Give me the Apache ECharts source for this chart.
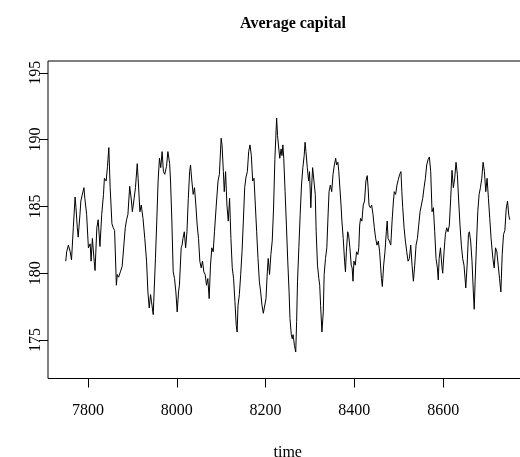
<!DOCTYPE html>
<html>
<head>
<meta charset="utf-8">
<script src="https://cdn.jsdelivr.net/npm/echarts@6/dist/echarts.min.js"></script>
<style>
  body { margin: 0; background: #fff; }
  #chart { width: 520px; height: 457px; }
</style>
</head>
<body>
<div id="chart"></div>
<script>
// time index, one entry per traced point
var timeSteps = [
  7750, 7752, 7756, 7760, 7763, 7767, 7771, 7773, 7776, 7778, 7782, 7784, 7788, 7791, 7793, 7797,
  7801, 7805, 7807, 7810, 7814, 7816, 7820, 7823, 7827, 7831, 7835, 7837, 7841, 7844, 7847, 7850,
  7854, 7857, 7860, 7864, 7866, 7869, 7873, 7877, 7880, 7884, 7887, 7890, 7894, 7898, 7900, 7904,
  7907, 7911, 7913, 7917, 7920, 7924, 7928, 7932, 7935, 7938, 7941, 7943, 7947, 7949, 7952, 7955,
  7958, 7961, 7964, 7967, 7970, 7973, 7977, 7980, 7984, 7986, 7989, 7992, 7995, 7998, 8001, 8004,
  8006, 8010, 8012, 8014, 8017, 8020, 8023, 8026, 8029, 8031, 8034, 8037, 8040, 8043, 8046, 8049,
  8052, 8055, 8058, 8061, 8064, 8067, 8070, 8073, 8076, 8079, 8082, 8085, 8089, 8093, 8096, 8100,
  8102, 8105, 8107, 8110, 8113, 8116, 8119, 8122, 8125, 8128, 8131, 8134, 8136, 8138, 8141, 8144,
  8147, 8150, 8153, 8156, 8159, 8162, 8165, 8168, 8171, 8174, 8177, 8180, 8183, 8186, 8189, 8192,
  8195, 8198, 8201, 8204, 8206, 8209, 8212, 8215, 8218, 8221, 8223, 8225, 8227, 8229, 8232, 8235,
  8237, 8239, 8241, 8244, 8247, 8250, 8253, 8255, 8258, 8260, 8262, 8265, 8268, 8270, 8272, 8275,
  8278, 8281, 8284, 8287, 8289, 8291, 8294, 8297, 8299, 8302, 8304, 8306, 8309, 8312, 8314, 8317,
  8320, 8322, 8324, 8327, 8330, 8332, 8335, 8338, 8341, 8343, 8346, 8349, 8352, 8355, 8358, 8360,
  8363, 8365, 8367, 8370, 8372, 8375, 8378, 8380, 8382, 8385, 8387, 8390, 8393, 8395, 8397, 8399,
  8402, 8405, 8408, 8410, 8412, 8414, 8417, 8420, 8423, 8426, 8429, 8431, 8433, 8436, 8439, 8442,
  8445, 8448, 8451, 8454, 8457, 8461, 8463, 8466, 8469, 8472, 8474, 8476, 8479, 8482, 8485, 8488,
  8490, 8493, 8496, 8499, 8502, 8505, 8507, 8509, 8512, 8515, 8518, 8521, 8524, 8527, 8530, 8533,
  8536, 8539, 8542, 8545, 8548, 8551, 8554, 8557, 8560, 8563, 8566, 8569, 8572, 8575, 8578, 8581,
  8584, 8587, 8589, 8591, 8594, 8597, 8599, 8602, 8605, 8608, 8611, 8614, 8617, 8620, 8623, 8626,
  8629, 8632, 8635, 8638, 8641, 8644, 8647, 8651, 8654, 8657, 8659, 8662, 8665, 8668, 8670, 8672,
  8675, 8678, 8681, 8684, 8687, 8690, 8693, 8696, 8699, 8702, 8705, 8708, 8712, 8715, 8718, 8721,
  8724, 8727, 8730, 8733, 8736, 8739, 8742, 8745, 8748, 8750
];
// average capital at each time step
var capital = [
  180.9, 181.6, 182.1, 181.6, 181.0, 183.4, 185.7, 184.9, 183.4, 182.7, 184.4, 185.4, 186.0, 186.4, 185.6, 184.4,
  181.9, 182.2, 180.9, 182.6, 180.9, 180.2, 183.4, 184.0, 182.0, 184.4, 185.9, 187.1, 186.9, 188.0, 189.4, 186.4,
  183.7, 183.4, 183.2, 179.1, 179.9, 179.7, 180.1, 180.5, 180.6, 183.4, 184.0, 184.4, 186.5, 185.4, 184.6, 185.6,
  186.4, 188.2, 187.1, 184.6, 185.1, 184.1, 182.6, 180.9, 178.6, 177.4, 178.4, 177.9, 176.9, 178.6, 181.1, 183.9,
  186.9, 188.6, 187.9, 189.1, 187.6, 187.4, 188.0, 189.1, 188.2, 186.9, 183.9, 180.1, 179.6, 178.6, 177.1, 178.6,
  179.1, 181.9, 182.1, 182.6, 183.1, 181.9, 183.1, 185.6, 187.6, 188.1, 186.9, 185.9, 186.4, 185.1, 183.6, 182.6,
  180.9, 180.4, 180.9, 180.1, 179.9, 179.1, 179.6, 178.1, 180.6, 181.9, 181.6, 183.1, 185.1, 186.9, 187.4, 190.1,
  189.6, 187.6, 186.1, 187.6, 185.1, 183.9, 185.6, 182.6, 180.4, 179.6, 177.9, 176.1, 175.6, 177.6, 178.4, 179.9,
  181.6, 183.9, 186.4, 187.2, 187.6, 189.1, 189.6, 188.8, 186.9, 187.1, 185.1, 183.1, 181.1, 179.4, 178.6, 177.6,
  177.0, 176.9, 178.1, 180.1, 181.1, 179.9, 181.4, 182.4, 184.8, 188.5, 190.1, 191.6, 190.3, 189.6, 188.6, 189.3,
  188.8, 189.6, 188.6, 186.1, 183.6, 180.9, 178.6, 176.6, 175.4, 175.1, 175.4, 174.6, 174.1, 176.4, 179.4, 181.9,
  184.4, 186.6, 187.9, 188.8, 189.8, 189.1, 187.9, 186.9, 187.6, 184.9, 186.6, 187.9, 186.9, 185.9, 183.1, 180.6,
  179.6, 179.1, 177.6, 175.6, 177.1, 179.9, 181.1, 181.9, 184.5, 186.1, 186.6, 186.1, 187.4, 188.1, 188.6, 188.1,
  188.3, 187.6, 186.6, 185.1, 183.9, 182.6, 180.9, 180.1, 181.6, 183.1, 182.9, 181.9, 180.6, 180.4, 179.4, 180.9,
  180.6, 181.6, 181.4, 181.9, 183.6, 184.1, 183.9, 185.1, 185.4, 186.9, 187.3, 186.4, 185.1, 184.9, 185.1, 184.4,
  183.4, 182.6, 182.1, 182.4, 181.6, 179.6, 179.0, 180.6, 181.6, 183.1, 183.9, 182.6, 182.4, 182.1, 183.9, 185.4,
  186.1, 185.9, 186.6, 187.0, 187.4, 187.6, 186.1, 184.9, 183.4, 182.4, 181.6, 180.9, 181.1, 182.1, 180.6, 179.4,
  180.6, 182.1, 182.6, 183.6, 184.6, 185.1, 185.6, 186.4, 187.1, 188.1, 188.5, 188.7, 187.6, 184.6, 184.9, 183.1,
  181.1, 180.4, 179.5, 181.1, 181.9, 180.6, 180.0, 181.6, 182.9, 183.4, 183.1, 183.6, 185.6, 187.7, 186.4, 187.1,
  188.3, 187.4, 185.4, 183.6, 182.1, 181.1, 180.6, 178.9, 180.6, 182.9, 183.1, 182.4, 180.9, 178.6, 177.3, 179.4,
  182.1, 184.6, 185.9, 186.4, 187.1, 188.3, 187.6, 186.1, 187.1, 185.6, 184.1, 182.6, 181.1, 180.4, 181.9, 181.6,
  180.6, 179.6, 178.6, 181.4, 182.9, 183.2, 184.8, 185.4, 184.3, 184.0
];
var xTicks = [7800, 8000, 8200, 8400, 8600];
var yTicks = [175, 180, 185, 190, 195];

var seriesData = timeSteps.map(function (t, i) { return [t, capital[i]]; });
var plain = function (v) { return String(v); };

var chart = echarts.init(document.getElementById('chart'));
chart.setOption({
  animation: false,
  backgroundColor: '#fff',
  title: {
    text: 'Average capital',
    left: 288,
    top: 11,
    textAlign: 'center',
    textStyle: { fontFamily: 'Liberation Serif', fontWeight: 'bold', fontSize: 16, color: '#000' }
  },
  grid: {
    show: true,
    left: 48,
    top: 61,
    width: 479.5,
    height: 317.5,
    containLabel: false,
    outerBoundsMode: 'none',
    borderColor: '#000',
    borderWidth: 1,
    backgroundColor: 'transparent'
  },
  xAxis: {
    type: 'value',
    min: 7710,
    max: 8790,
    name: 'time',
    nameLocation: 'middle',
    nameGap: 66,
    nameTextStyle: { fontFamily: 'Liberation Serif', fontSize: 16, color: '#000' },
    axisLine: { show: false },
    splitLine: { show: false },
    axisTick: { show: true, length: 9, customValues: xTicks, lineStyle: { color: '#000' } },
    axisLabel: { customValues: xTicks, formatter: plain, margin: 24, fontFamily: 'Liberation Serif', fontSize: 16, color: '#000' }
  },
  yAxis: {
    type: 'value',
    min: 172.12,
    max: 195.88,
    axisLine: { show: false },
    splitLine: { show: false },
    axisTick: { show: true, length: 9, customValues: yTicks, lineStyle: { color: '#000' } },
    axisLabel: { customValues: yTicks, formatter: plain, rotate: 90, margin: 4, fontFamily: 'Liberation Serif', fontSize: 16, color: '#000' }
  },
  series: [{
    type: 'line',
    data: seriesData,
    showSymbol: false,
    symbol: 'none',
    lineStyle: { color: '#000', width: 1 }
  }]
});
</script>
</body>
</html>
